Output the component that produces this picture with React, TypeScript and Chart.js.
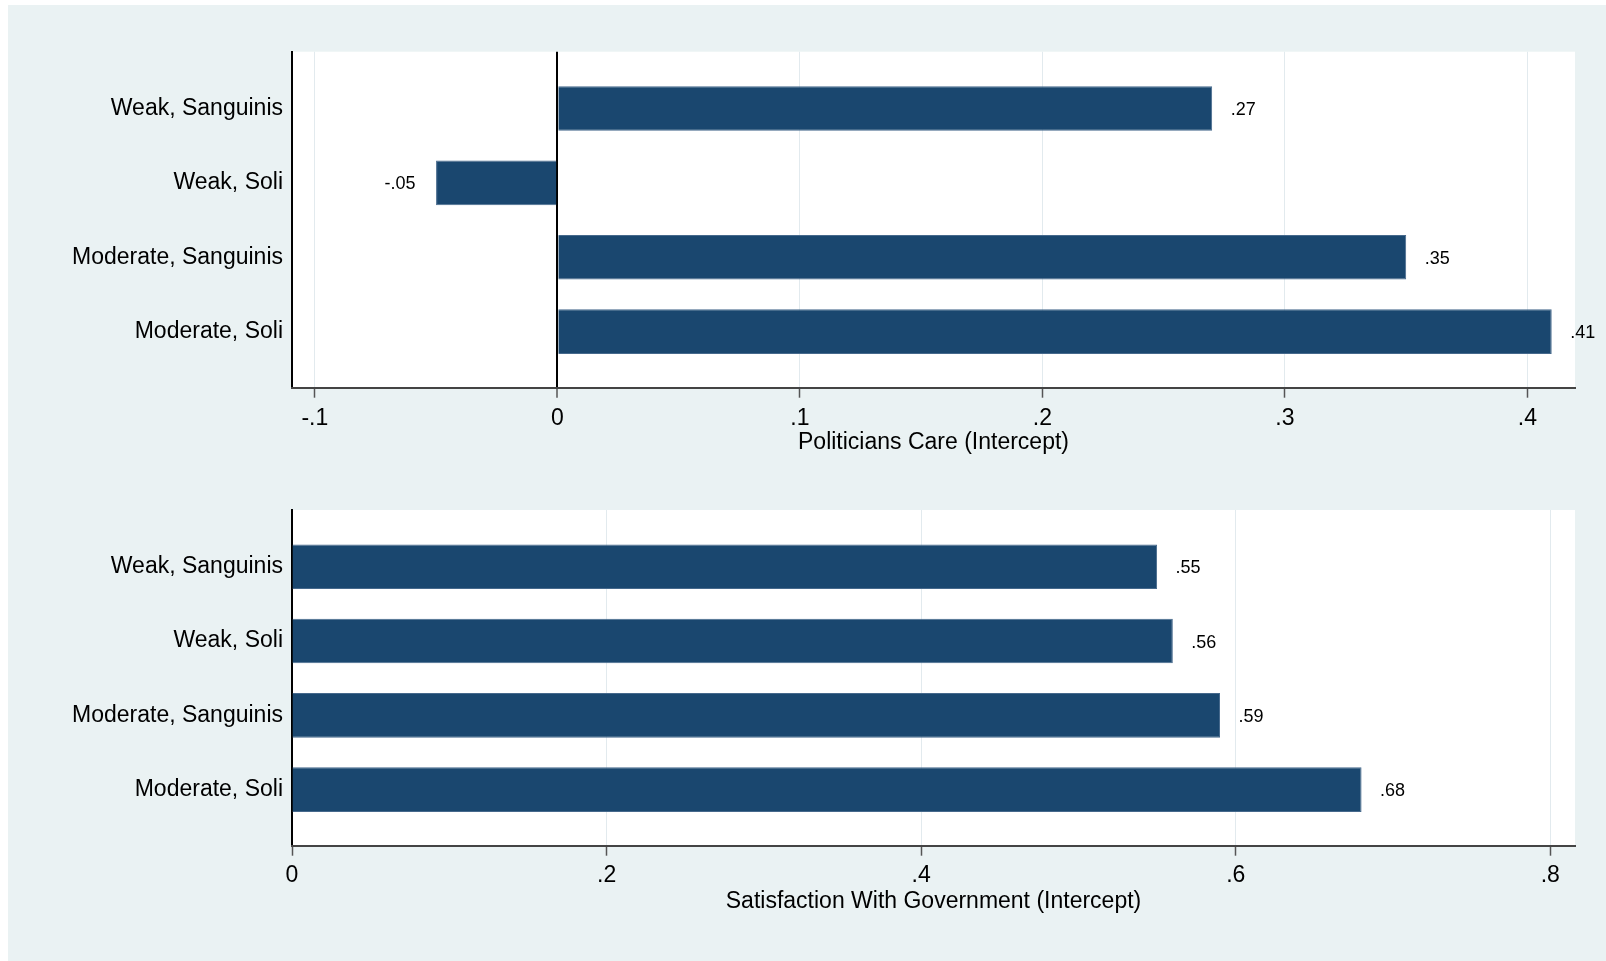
import React, { useEffect, useRef } from 'react';
import { Chart, registerables } from 'chart.js';

Chart.register(...registerables);

// ---- Data ----
const CATEGORIES = ['Weak, Sanguinis', 'Weak, Soli', 'Moderate, Sanguinis', 'Moderate, Soli'];
const CARE_VALUES = [0.27, -0.05, 0.35, 0.41];
const SATISFACTION_VALUES = [0.55, 0.56, 0.59, 0.68];
const CARE_TICKS = [-0.1, 0, 0.1, 0.2, 0.3, 0.4];
const SATISFACTION_TICKS = [0, 0.2, 0.4, 0.6, 0.8];
const CARE_RANGE = [-0.1094, 0.4196];
const SATISFACTION_RANGE = [0, 0.8157];
const CARE_TITLE = 'Politicians Care (Intercept)';
const SATISFACTION_TITLE = 'Satisfaction With Government (Intercept)';

const FONT = '"Liberation Sans", Arial, "DejaVu Sans", sans-serif';
const BAR_COLOR = '#1a476f';
const BG = '#eaf2f3';
const GRID = '#e2eaee';

function fmt(v: number): string {
  if (Math.abs(v) < 1e-9) return '0';
  const s = String(+Math.abs(v).toFixed(2)).replace(/^0/, '');
  return (v < 0 ? '-' : '') + s;
}

const plotBg = {
  id: 'plotBg',
  beforeDraw(chart: any) {
    const { ctx, chartArea: a } = chart;
    ctx.save();
    ctx.fillStyle = '#ffffff';
    ctx.fillRect(a.left, a.top, a.right - a.left, a.bottom - a.top);
    ctx.restore();
  },
};

const valueLabels = {
  id: 'valueLabels',
  afterDatasetsDraw(chart: any) {
    const ctx = chart.ctx;
    const meta = chart.getDatasetMeta(0);
    const ds = chart.data.datasets[0];
    ctx.save();
    ctx.font = `18px ${FONT}`;
    ctx.fillStyle = '#000';
    ctx.textBaseline = 'middle';
    meta.data.forEach((el: any, i: number) => {
      const v = (ds.data[i] as any).x;
      const { x, y } = el.getProps(['x', 'y'], true);
      if (v >= 0) {
        ctx.textAlign = 'left';
        ctx.fillText(fmt(v), x + 18.5, y + 1.5);
      } else {
        ctx.textAlign = 'right';
        ctx.fillText(fmt(v), x - 20.5, y + 1.5);
      }
    });
    ctx.restore();
  },
};

interface Geom {
  padTop: number;
  padBottom: number;
  xAxisHeight: number;
  tickPad: number;
  zeroLine: boolean;
}

function makeConfig(values: number[], ticks: number[], range: number[], title: string, g: Geom): any {
  const isZero = (c: any) => g.zeroLine && c && c.tick && Math.abs(c.tick.value) < 1e-9;
  return {
    type: 'bar',
    data: {
      datasets: [
        {
          data: values.map((v, i) => ({ x: v, y: i })),
          backgroundColor: BAR_COLOR,
          borderColor: '#46698c',
          borderWidth: 1,
          categoryPercentage: 1,
          barPercentage: 0.6,
        },
      ],
    },
    options: {
      indexAxis: 'y',
      responsive: false,
      animation: false,
      devicePixelRatio: 1,
      layout: { padding: { left: 0, right: 31, top: g.padTop, bottom: g.padBottom } },
      plugins: { legend: { display: false }, tooltip: { enabled: false } },
      scales: {
        y: {
          type: 'linear',
          offset: false,
          min: -0.765,
          max: 3.755,
          reverse: true,
          afterBuildTicks: (s: any) => {
            s.ticks = CATEGORIES.map((_, i) => ({ value: i }));
          },
          afterFit: (s: any) => {
            s.width = 292;
          },
          grid: { display: false, drawTicks: false, tickLength: 0, offset: false },
          border: { display: true, color: '#000', width: 2 },
          ticks: {
            padding: 9,
            color: '#000',
            autoSkip: false,
            font: { family: FONT, size: 23 },
            callback: (v: any) => CATEGORIES[v] ?? '',
          },
        },
        x: {
          type: 'linear',
          offset: false,
          min: range[0],
          max: range[1],
          afterBuildTicks: (s: any) => {
            s.ticks = ticks.map((v) => ({ value: v }));
          },
          afterFit: (s: any) => {
            s.height = g.xAxisHeight;
          },
          grid: {
            drawOnChartArea: true,
            color: (c: any) => (isZero(c) ? '#000' : GRID),
            lineWidth: (c: any) => (isZero(c) ? 2 : 1),
            tickColor: '#555',
            tickLength: 10,
            tickWidth: 1.5,
          },
          border: { display: true, color: '#444', width: 2 },
          ticks: {
            padding: g.tickPad,
            color: '#000',
            autoSkip: false,
            maxRotation: 0,
            font: { family: FONT, size: 23 },
            callback: (v: any) => fmt(Number(v)),
          },
          title: {
            display: true,
            text: title,
            color: '#000',
            padding: 0,
            font: { family: FONT, size: 23 },
          },
        },
      },
    },
    plugins: [plotBg, valueLabels],
  };
}

function BarPanel(props: {
  values: number[];
  ticks: number[];
  range: number[];
  title: string;
  geom: Geom;
  top: number;
  height: number;
}) {
  const ref = useRef<HTMLCanvasElement | null>(null);
  useEffect(() => {
    if (!ref.current) return;
    const chart = new Chart(ref.current, makeConfig(props.values, props.ticks, props.range, props.title, props.geom));
    return () => chart.destroy();
  }, []);
  return (
    <canvas
      ref={ref}
      width={1606}
      height={props.height}
      style={{ position: 'absolute', left: 0, top: props.top, width: 1606, height: props.height, display: 'block' }}
    />
  );
}

export default function App() {
  useEffect(() => {
    document.body.style.margin = '0';
    document.body.style.overflow = 'hidden';
  }, []);
  return (
    <div style={{ position: 'relative', width: 1606, height: 961, background: '#fff', overflow: 'hidden' }}>
      <div style={{ position: 'absolute', left: 8, top: 5, width: 1598, height: 956, background: BG }} />
      <BarPanel
        values={CARE_VALUES}
        ticks={CARE_TICKS}
        range={CARE_RANGE}
        title={CARE_TITLE}
        top={0}
        height={480}
        geom={{ padTop: 51.7, padBottom: 24, xAxisHeight: 68.3, tickPad: 7, zeroLine: true }}
      />
      <BarPanel
        values={SATISFACTION_VALUES}
        ticks={SATISFACTION_TICKS}
        range={SATISFACTION_RANGE}
        title={SATISFACTION_TITLE}
        top={480}
        height={481}
        geom={{ padTop: 30, padBottom: 45.2, xAxisHeight: 70.1, tickPad: 6.5, zeroLine: false }}
      />
    </div>
  );
}
